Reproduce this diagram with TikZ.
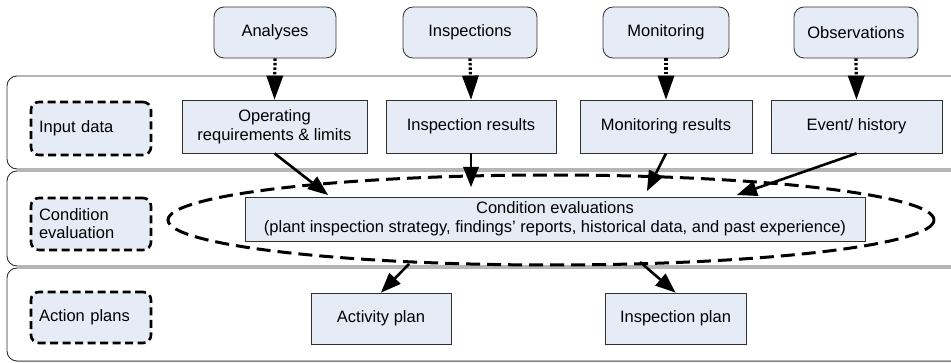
\documentclass[tikz,border=0pt]{standalone}
\usepackage{fontspec}
\setmainfont{Liberation Sans}
\usetikzlibrary{arrows.meta}
\definecolor{boxfill}{HTML}{E6ECF6}
\definecolor{laneline}{HTML}{303030}
\begin{document}
\begin{tikzpicture}[x=1pt,y=-1pt,
  every node/.style={font=\fontsize{16.5}{19}\selectfont, inner sep=0pt},
  srcbox/.style={draw=laneline, fill=boxfill, rounded corners=10pt, line width=0.8pt},
  databox/.style={draw=laneline, fill=boxfill, line width=0.8pt, align=center},
  tagbox/.style={draw=black, fill=boxfill, rounded corners=8pt, line width=2.6pt,
    dash pattern=on 8pt off 4.5pt, align=left, text width=104pt, inner xsep=8pt},
  lane/.style={draw=laneline, fill=white, line width=0.9pt, rounded corners=10pt},
  feed/.style={line width=3.2pt, dash pattern=on 2.5pt off 2pt,
    -{Triangle[length=24pt,width=17pt,line width=0pt]}},
  flow/.style={line width=2.6pt, -{Triangle[length=20pt,width=16pt,line width=0pt]}},
  loop/.style={draw=black, line width=3pt, dash pattern=on 14pt off 7pt}]
\useasboundingbox (0,0) rectangle (951,363);

% swim lanes
\path[lane] (952,76) -- (7,76) -- (7,169) -- (952,169);
\path[lane] (952,171) -- (7,171) -- (7,266) -- (952,266);
\path[lane] (952,268) -- (7,268) -- (7,361) -- (952,361);
\draw[gray, line width=1.4pt] (17,361.5) -- (951,361.5);

% lane labels
\node[tagbox, minimum width=120pt, minimum height=53pt] (tin) at (91,128.5) {Input data};
\node[tagbox, minimum width=120pt, minimum height=52pt] (tce) at (91,224) {Condition\\[-1pt]evaluation};
\node[tagbox, minimum width=120pt, minimum height=51pt] (tap) at (91,317.5) {Action plans};

% sources
\node[srcbox, minimum width=122pt, minimum height=51pt] (ana) at (275,32.5) {Analyses};
\node[srcbox, minimum width=134pt, minimum height=51pt] (ins) at (470,32.5) {Inspections};
\node[srcbox, minimum width=126pt, minimum height=51pt] (mon) at (666,32.5) {Monitoring};
\node[srcbox, minimum width=124pt, minimum height=51pt] (obs) at (856,32.5) {Observations};

% input data
\node[databox, minimum width=185pt, minimum height=53pt] (opr) at (274.5,126.5)
  {Operating\\[0pt]requirements \& limits};
\node[databox, minimum width=170pt, minimum height=53pt] (inr) at (471,126.5) {Inspection results};
\node[databox, minimum width=172pt, minimum height=53pt] (mor) at (666,126.5) {Monitoring results};
\node[databox, minimum width=171pt, minimum height=53pt] (evh) at (856.5,126.5) {Event/ history};

% condition evaluation
\draw[loop] (551,220) ellipse [x radius=383, y radius=45];
\node[databox, minimum width=620pt, minimum height=44pt] (cev) at (555,219)
  {Condition evaluations\\[0pt](plant inspection strategy, findings’ reports, historical data, and past experience)};

% action plans
\node[databox, minimum width=140pt, minimum height=51pt] (act) at (381,318.5) {Activity plan};
\node[databox, minimum width=141pt, minimum height=51pt] (ipl) at (675.5,318.5) {Inspection plan};

% connectors
\draw[feed] (ana.south) -- (opr.north);
\draw[feed] (ins.south) -- (inr.north);
\draw[feed] (mon.south) -- (mor.north);
\draw[feed] (obs.south) -- (evh.north);

\coordinate (e1) at (328,195);
\coordinate (e2) at (471,187);
\coordinate (e3) at (647,191);
\coordinate (e4) at (737,195);
\coordinate (o1) at (409,264);
\coordinate (o2) at (640,262);
\draw[flow] (opr.south) -- (e1);
\draw[flow] (inr.south) -- (e2);
\draw[flow] (mor.south) -- (e3);
\draw[flow] (evh.south) -- (e4);
\draw[flow] (o1) -- (act.north);
\draw[flow] (o2) -- (ipl.north);
\end{tikzpicture}
\end{document}
